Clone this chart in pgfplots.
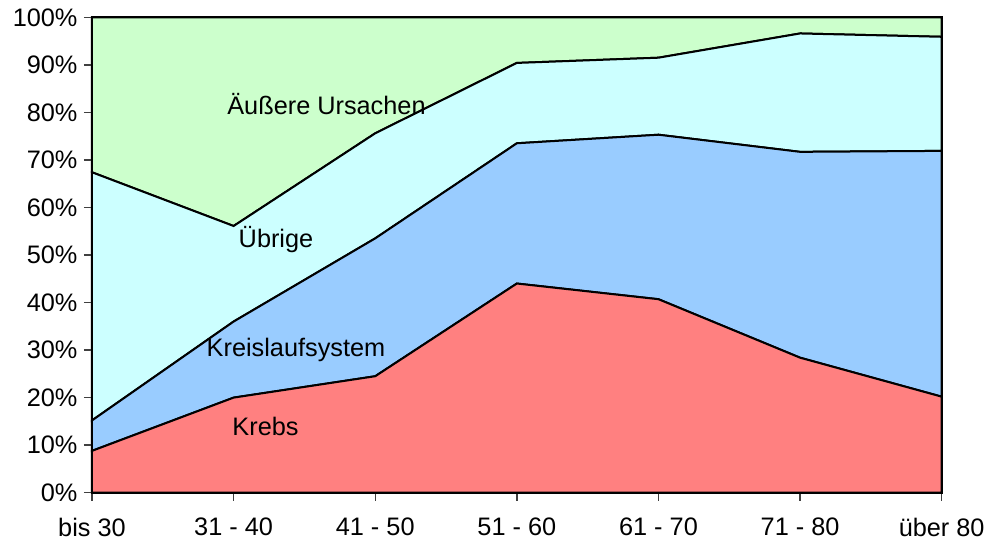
\documentclass[border=0pt]{standalone}
\usepackage{pgfplots}
\pgfplotsset{compat=1.18}
\usepackage{fontspec}
\setmainfont{Liberation Sans}
\definecolor{krebs}{HTML}{FF8080}
\definecolor{kreis}{HTML}{99CCFF}
\definecolor{uebr}{HTML}{CCFFFF}
\definecolor{aeuss}{HTML}{CCFFCC}
\newcommand{\chfont}{\fontsize{25.3bp}{29bp}\selectfont}
\begin{document}
\begin{tikzpicture}[font=\chfont]
\useasboundingbox (-92bp,-52.3bp) rectangle (899bp,492.7bp);
\begin{axis}[
  at={(0,0)}, anchor=south west,
  scale only axis, width=849.7bp, height=475.4bp,
  xmin=0, xmax=6, ymin=0, ymax=100,
  enlargelimits=false,
  stack plots=y,
  axis on top=true,
  axis line style={line width=2bp, black},
  xtick={0,1,2,3,4,5,6},
  xticklabels={bis 30,31 - 40,41 - 50,51 - 60,61 - 70,71 - 80,über 80},
  ytick={0,10,20,30,40,50,60,70,80,90,100},
  yticklabels={0\%,10\%,20\%,30\%,40\%,50\%,60\%,70\%,80\%,90\%,100\%},
  tick align=outside,
  major tick length=8bp,
  tick style={line width=1.4bp, black!75},
  xtick pos=bottom, ytick pos=left,
  ticklabel style={font=\chfont},
  xticklabel style={yshift=-14bp},
  yticklabel style={xshift=-3bp},
  clip=false,
]
\addplot[fill=krebs, draw=black, line width=2bp] coordinates {(0,8.8) (1,20.0) (2,24.5) (3,44.0) (4,40.7) (5,28.4) (6,20.2)} \closedcycle;
\addplot[fill=kreis, draw=black, line width=2bp] coordinates {(0,6.4) (1,16.0) (2,29.0) (3,29.5) (4,34.6) (5,43.3) (6,51.7)} \closedcycle;
\addplot[fill=uebr, draw=black, line width=2bp] coordinates {(0,52.2) (1,20.1) (2,22.1) (3,16.9) (4,16.2) (5,24.9) (6,24.0)} \closedcycle;
\addplot[fill=aeuss, draw=black, line width=2bp] coordinates {(0,32.6) (1,43.9) (2,24.4) (3,9.6) (4,8.5) (5,3.4) (6,4.1)} \closedcycle;
\end{axis}
\node[anchor=base, inner sep=0] at (234.5bp,377.7bp) {Äußere Ursachen};
\node[anchor=base, inner sep=0] at (184bp,244.7bp) {Übrige};
\node[anchor=base, inner sep=0] at (204bp,135.7bp) {Kreislaufsystem};
\node[anchor=base, inner sep=0] at (173.5bp,56.7bp) {Krebs};
\end{tikzpicture}
\end{document}
